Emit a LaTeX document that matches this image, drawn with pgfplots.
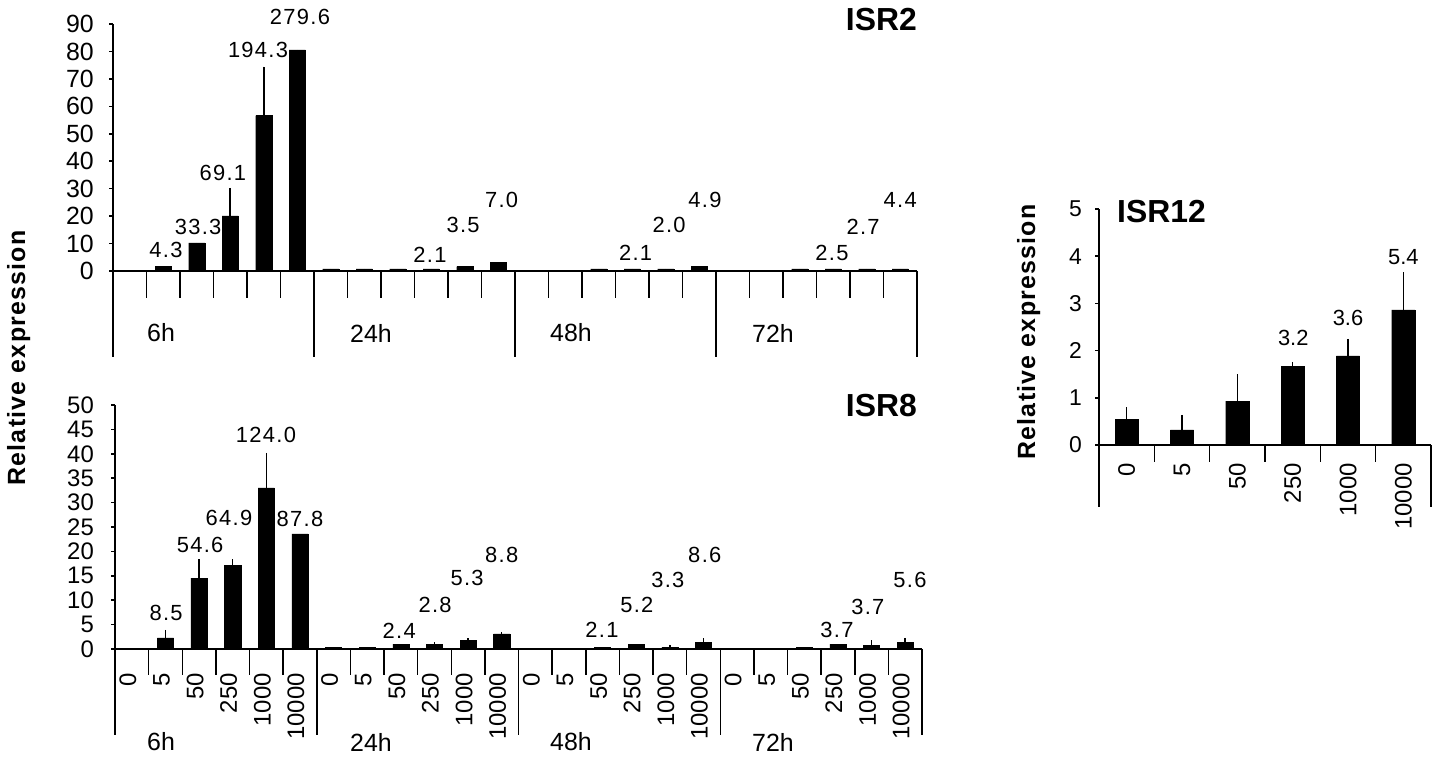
\documentclass[border=0pt]{standalone}
\usepackage{fontspec}
\setmainfont{Liberation Sans}
\newfontfamily\vallab[LetterSpace=6]{Liberation Sans}
\newfontfamily\ylab[LetterSpace=5]{Liberation Sans}
\usepackage{pgfplots}
\pgfplotsset{compat=1.18}
\pgfplotsset{
  panel/.style={
    scale only axis, clip=false, anchor=south west,
    axis lines*=left,
    axis line style={line width=1.5bp, black},
    ytick align=outside, major tick length=4bp,
    ytick style={line width=1.5bp, black},
    xtick style={draw=none},
    /pgf/number format/assume math mode=true,
    tick label style={font=\fontsize{24}{24}\selectfont},
    yticklabel style={anchor=east, inner sep=0pt},
  },
  bars/.style={
    ybar, fill=black, draw=black, line width=0.4bp,
    error bars/.cd, y dir=plus, y explicit, error mark=none,
    error bar style={line width=1.6bp, black},
  },
}
\tikzset{
  vl/.style={inner sep=0pt, font=\vallab\fontsize{22}{22}\selectfont},
  vr/.style={inner sep=0pt, font=\fontsize{22}{22}\selectfont},
}
\begin{document}
\begin{tikzpicture}[x=1bp,y=1bp]
\useasboundingbox (0,0) rectangle (1439,760);

% ---------------- ISR2 ----------------
\begin{axis}[panel, at={(113bp,489bp)}, width=804bp, height=247bp,
  xmin=0, xmax=24, ymin=0, ymax=90, ytick={0,10,...,90}, xtick=\empty,
  yticklabel style={xshift=-15bp, font=\fontsize{25}{25}\selectfont}]
\addplot[bar width=0.48, bars] table[x=x, y=y, y error=e] {
x y e
0.5 0.2 0
1.5 1.8 0
2.5 10.2 0
3.5 20.1 10.2
4.5 56.6 17.9
5.5 80.6 0
6.5 0.8 0
7.5 0.8 0
8.5 0.8 0
9.5 0.8 0
10.5 1.6 0
11.5 3.2 0
12.5 0 0
13.5 0 0
14.5 0.8 0
15.5 0.8 0
16.5 0.8 0
17.5 1.6 0
18.5 0.2 0
19.5 0 0
20.5 0.8 0
21.5 0.8 0
22.5 0.8 0
23.5 0.8 0
};
\pgfplotsinvokeforeach{1,2,3,4,5,7,8,9,10,11,13,14,15,16,17,19,20,21,22,23}{
  \draw[line width=1.5bp] (axis cs:#1,0) -- ++(0bp,-27bp);}
\pgfplotsinvokeforeach{0,6,12,18,24}{
  \draw[line width=1.5bp] (axis cs:#1,0) -- ++(0bp,-86bp);}
\node[vl] at (axis cs:1.58,7.7) {4.3};
\node[vl] at (axis cs:2.54,16.0) {33.3};
\node[vl] at (axis cs:3.28,35.7) {69.1};
\node[vl] at (axis cs:4.33,80.5) {194.3};
\node[vl] at (axis cs:5.58,92.6) {279.6};
\node[vl] at (axis cs:9.46,5.8) {2.1};
\node[vl] at (axis cs:10.45,16.8) {3.5};
\node[vl] at (axis cs:11.6,25.9) {7.0};
\node[vl] at (axis cs:15.6,6.6) {2.1};
\node[vl] at (axis cs:16.6,16.8) {2.0};
\node[vl] at (axis cs:17.67,25.9) {4.9};
\node[vl] at (axis cs:21.46,6.6) {2.5};
\node[vl] at (axis cs:22.39,16.0) {2.7};
\node[vl] at (axis cs:23.5,25.9) {4.4};
\end{axis}

% ---------------- ISR8 ----------------
\begin{axis}[panel, at={(115bp,111bp)}, width=807bp, height=244bp,
  xmin=0, xmax=24, ymin=0, ymax=50, ytick={0,5,...,50},
  yticklabel style={xshift=-17bp},
  xtick={0.5,1.5,...,23.5},
  xticklabels={0,5,50,250,1000,10000,0,5,50,250,1000,10000,0,5,50,250,1000,10000,0,5,50,250,1000,10000},
  xticklabel style={rotate=90, anchor=east, inner sep=0pt, yshift=4bp},
  xticklabel shift=24bp]
\addplot[bar width=0.48, bars] table[x=x, y=y, y error=e] {
x y e
0.5 0 0
1.5 2.3 1.6
2.5 14.5 3.9
3.5 17.2 1.2
4.5 33.0 7.2
5.5 23.6 0
6.5 0.4 0
7.5 0.4 0
8.5 1.0 0
9.5 1.0 0.4
10.5 1.8 0.4
11.5 3.1 0.4
12.5 0 0
13.5 0.1 0
14.5 0.3 0
15.5 1.0 0
16.5 0.4 0.5
17.5 1.3 0.9
18.5 0.1 0
19.5 0.1 0
20.5 0.3 0
21.5 1.0 0
22.5 0.8 1.0
23.5 1.4 0.9
};
\pgfplotsinvokeforeach{1,2,3,4,5,7,8,9,10,11,13,14,15,16,17,19,20,21,22,23}{
  \draw[line width=1.5bp] (axis cs:#1,0) -- ++(0bp,-26bp);}
\pgfplotsinvokeforeach{0,6,12,18,24}{
  \draw[line width=1.5bp] (axis cs:#1,0) -- ++(0bp,-86bp);}
\node[vl] at (axis cs:1.52,7.4) {8.5};
\node[vl] at (axis cs:2.53,21.3) {54.6};
\node[vl] at (axis cs:3.39,26.8) {64.9};
\node[vl] at (axis cs:4.49,43.9) {124.0};
\node[vl] at (axis cs:5.5,26.6) {87.8};
\node[vl] at (axis cs:8.45,3.7) {2.4};
\node[vl] at (axis cs:9.52,9.0) {2.8};
\node[vl] at (axis cs:10.47,14.5) {5.3};
\node[vl] at (axis cs:11.5,19.3) {8.8};
\node[vl] at (axis cs:14.48,3.9) {2.1};
\node[vl] at (axis cs:15.52,9.0) {5.2};
\node[vl] at (axis cs:16.44,14.1) {3.3};
\node[vl] at (axis cs:17.54,19.3) {8.6};
\node[vl] at (axis cs:21.47,3.9) {3.7};
\node[vl] at (axis cs:22.39,8.6) {3.7};
\node[vl] at (axis cs:23.64,14.1) {5.6};
\end{axis}

% ---------------- ISR12 ----------------
\begin{axis}[panel, at={(1099bp,315bp)}, width=332bp, height=236bp,
  xmin=0, xmax=6, ymin=0, ymax=5, ytick={0,1,...,5},
  yticklabel style={xshift=-13bp, font=\fontsize{23}{23}\selectfont},
  xtick={0.5,1.5,...,5.5},
  xticklabels={0,5,50,250,1000,10000},
  xticklabel style={rotate=90, anchor=east, inner sep=0pt},
  xticklabel shift=18bp]
\addplot[bar width=0.42, bars] table[x=x, y=y, y error=e] {
x y e
0.5 0.55 0.25
1.5 0.32 0.32
2.5 0.93 0.57
3.5 1.67 0.09
4.5 1.89 0.36
5.5 2.86 0.80
};
\pgfplotsinvokeforeach{1,2,3,4,5}{
  \draw[line width=1.5bp] (axis cs:#1,0) -- ++(0bp,-17bp);}
\pgfplotsinvokeforeach{0,6}{
  \draw[line width=1.5bp] (axis cs:#1,0) -- ++(0bp,-62bp);}
\node[vr] at (axis cs:3.51,2.27) {3.2};
\node[vr] at (axis cs:4.5,2.69) {3.6};
\node[vr] at (axis cs:5.5,3.98) {5.4};
\end{axis}

% ---------------- texts ----------------
\begin{scope}[every node/.style={inner sep=0pt, font=\fontsize{25}{25}\selectfont, anchor=west}]
\node at (147bp,427bp) {6h};
\node at (350bp,427bp) {24h};
\node at (550bp,427bp) {48h};
\node at (752bp,427bp) {72h};
\node at (147bp,18bp) {6h};
\node at (350bp,18bp) {24h};
\node at (550bp,18bp) {48h};
\node at (752bp,18bp) {72h};
\end{scope}
\begin{scope}[every node/.style={inner sep=0pt, font=\bfseries\fontsize{32}{32}\selectfont}]
\node[anchor=east] at (917bp,740bp) {ISR2};
\node[anchor=east] at (917bp,354bp) {ISR8};
\node[anchor=west] at (1117bp,548bp) {ISR12};
\end{scope}
\begin{scope}[every node/.style={inner sep=0pt, rotate=90, anchor=base, font=\ylab\bfseries\fontsize{25}{25}\selectfont}]
\node at (25bp,402bp) {Relative expression};
\node at (1035bp,428bp) {Relative expression};
\end{scope}
\end{tikzpicture}
\end{document}
